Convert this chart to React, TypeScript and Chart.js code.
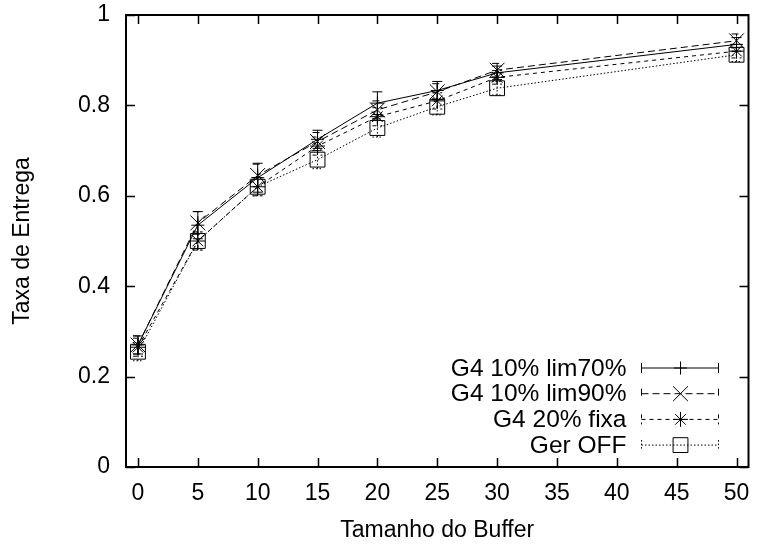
import React, { useEffect, useRef } from "react";
import { Chart, registerables } from "chart.js";

Chart.register(...registerables);

const bufferSizes = [0, 5, 10, 15, 20, 25, 30, 50];
const xTickValues = [0, 5, 10, 15, 20, 25, 30, 35, 40, 45, 50];
const yTickValues = [0, 0.2, 0.4, 0.6, 0.8, 1];

const seriesNames = ["G4 10% lim70%", "G4 10% lim90%", "G4 20% fixa", "Ger OFF"];
const lim70 = [0.27, 0.535, 0.64, 0.725, 0.805, 0.833, 0.872, 0.935];
const lim70Err = [0.02, 0.03, 0.032, 0.02, 0.025, 0.02, 0.015, 0.015];
const lim90 = [0.27, 0.54, 0.645, 0.72, 0.79, 0.83, 0.878, 0.943];
const lim90Err = [0.02, 0.025, 0.025, 0.02, 0.02, 0.018, 0.015, 0.015];
const fixa = [0.265, 0.5, 0.62, 0.71, 0.775, 0.81, 0.862, 0.92];
const fixaErr = [0.02, 0.02, 0.02, 0.02, 0.02, 0.018, 0.015, 0.015];
const gerOff = [0.255, 0.5, 0.62, 0.68, 0.75, 0.797, 0.838, 0.912];
const gerOffErr = [0.02, 0.02, 0.02, 0.02, 0.02, 0.018, 0.015, 0.015];

const FONT = "'Liberation Sans', Arial, sans-serif";

const styles = [
  { dash: [], point: "cross", radius: 6.5 },
  { dash: [7, 4], point: "crossRot", radius: 10.5 },
  { dash: [4, 4], point: "star", radius: 7.5 },
  { dash: [1.5, 2], point: "rect", radius: 10.5 },
];

const values = [lim70, lim90, fixa, gerOff];
const errors = [lim70Err, lim90Err, fixaErr, gerOffErr];

function drawMarker(ctx: CanvasRenderingContext2D, kind: string, r: number, x: number, y: number) {
  ctx.beginPath();
  if (kind === "cross") {
    ctx.moveTo(x - r, y); ctx.lineTo(x + r, y);
    ctx.moveTo(x, y - r); ctx.lineTo(x, y + r);
  } else if (kind === "crossRot") {
    const d = r * Math.SQRT1_2;
    ctx.moveTo(x - d, y - d); ctx.lineTo(x + d, y + d);
    ctx.moveTo(x - d, y + d); ctx.lineTo(x + d, y - d);
  } else if (kind === "star") {
    const d = r * Math.SQRT1_2;
    ctx.moveTo(x - r, y); ctx.lineTo(x + r, y);
    ctx.moveTo(x, y - r); ctx.lineTo(x, y + r);
    ctx.moveTo(x - d, y - d); ctx.lineTo(x + d, y + d);
    ctx.moveTo(x - d, y + d); ctx.lineTo(x + d, y - d);
  } else {
    const s = r * Math.SQRT1_2;
    ctx.rect(x - s, y - s, 2 * s, 2 * s);
  }
  ctx.stroke();
}

const gnuplotPlugin = {
  id: "gnuplotDecor",
  beforeDatasetsDraw(chart: any) {
    const { ctx, chartArea, scales } = chart;
    const { left, right, top, bottom } = chartArea;
    ctx.save();
    ctx.strokeStyle = "#000";
    ctx.setLineDash([]);
    ctx.lineWidth = 1.5;
    const tl = 9;
    ctx.beginPath();
    for (const v of xTickValues) {
      const px = Math.round(scales.x.getPixelForValue(v)) + 0.5;
      ctx.moveTo(px, bottom); ctx.lineTo(px, bottom - tl);
      ctx.moveTo(px, top); ctx.lineTo(px, top + tl);
    }
    for (const v of yTickValues) {
      const py = Math.round(scales.y.getPixelForValue(v)) + 0.5;
      ctx.moveTo(left, py); ctx.lineTo(left + tl, py);
      ctx.moveTo(right, py); ctx.lineTo(right - tl, py);
    }
    ctx.stroke();
    // error bars
    ctx.lineWidth = 1;
    chart.data.datasets.forEach((ds: any, i: number) => {
      const err = errors[i];
      ctx.setLineDash(styles[i].dash);
      ctx.beginPath();
      ds.data.forEach((p: any, j: number) => {
        const px = scales.x.getPixelForValue(p.x);
        const y1 = scales.y.getPixelForValue(p.y - err[j]);
        const y2 = scales.y.getPixelForValue(p.y + err[j]);
        ctx.moveTo(px, y1); ctx.lineTo(px, y2);
        ctx.moveTo(px - 5, y1); ctx.lineTo(px + 5, y1);
        ctx.moveTo(px - 5, y2); ctx.lineTo(px + 5, y2);
      });
      ctx.stroke();
    });
    ctx.restore();
  },
  afterDraw(chart: any) {
    const { ctx, chartArea } = chart;
    const { left, right, top, bottom } = chartArea;
    ctx.save();
    ctx.strokeStyle = "#000";
    ctx.setLineDash([]);
    ctx.lineWidth = 2;
    ctx.strokeRect(left, top, right - left, bottom - top);
    // legend
    const textRight = right - 122;
    const sx1 = right - 107;
    const sx2 = right - 30;
    const mx = (sx1 + sx2) / 2 + 0.5;
    const y0 = bottom - 99;
    const step = 25.7;
    ctx.font = `24.5px ${FONT}`;
    ctx.fillStyle = "#000";
    ctx.textAlign = "right";
    ctx.textBaseline = "middle";
    seriesNames.forEach((name, i) => {
      const y = y0 + i * step;
      ctx.fillText(name, textRight, y + 1);
      ctx.lineWidth = 1;
      ctx.setLineDash(styles[i].dash);
      ctx.beginPath();
      ctx.moveTo(sx1, y); ctx.lineTo(sx2, y);
      ctx.moveTo(sx1, y - 5); ctx.lineTo(sx1, y + 5);
      ctx.moveTo(sx2, y - 5); ctx.lineTo(sx2, y + 5);
      ctx.stroke();
      ctx.setLineDash([]);
      drawMarker(ctx, styles[i].point, styles[i].radius, mx, y);
    });
    ctx.restore();
  },
};

export default function App() {
  const ref = useRef<HTMLCanvasElement | null>(null);
  useEffect(() => {
    document.body.style.margin = "0";
    const canvas = ref.current;
    if (!canvas) return;
    const chart = new Chart(canvas, {
      type: "line",
      data: {
        datasets: seriesNames.map((name, i) => ({
          label: name,
          data: bufferSizes.map((x, j) => ({ x, y: values[i][j] })),
          borderColor: "#000",
          borderWidth: 1,
          borderDash: styles[i].dash,
          backgroundColor: "rgba(0,0,0,0)",
          pointStyle: styles[i].point as any,
          pointRadius: styles[i].radius,
          pointBorderColor: "#000",
          pointBackgroundColor: "rgba(0,0,0,0)",
          pointBorderWidth: 1,
          fill: false,
          tension: 0,
        })),
      },
      options: {
        responsive: false,
        animation: false,
        devicePixelRatio: 1,
        layout: { padding: { top: 15, right: 8, left: 0, bottom: 0 } },
        plugins: { legend: { display: false }, tooltip: { enabled: false } },
        scales: {
          x: {
            type: "linear",
            min: -1,
            max: 51,
            grid: { display: false, drawTicks: true, tickLength: 13 },
            border: { display: false },
            afterBuildTicks: (s: any) => {
              s.ticks = xTickValues.map((v) => ({ value: v }));
            },
            afterFit: (s: any) => {
              s.height = 77;
            },
            ticks: {
              padding: 0,
              color: "#000",
              font: { family: FONT, size: 23 },
              callback: (v: any) => String(v),
              maxRotation: 0,
              autoSkip: false,
            },
            title: {
              display: true,
              text: "Tamanho do Buffer",
              color: "#000",
              font: { family: FONT, size: 23 },
              padding: { top: 0, bottom: 0 },
            },
          },
          y: {
            type: "linear",
            min: 0,
            max: 1,
            grid: { display: false, drawTicks: true, tickLength: 16 },
            border: { display: false },
            afterBuildTicks: (s: any) => {
              s.ticks = yTickValues.map((v) => ({ value: v }));
            },
            afterFit: (s: any) => {
              s.width = 126;
            },
            ticks: {
              padding: 0,
              color: "#000",
              font: { family: FONT, size: 23 },
              callback: (v: any) => String(Number(Number(v).toFixed(1))),
              autoSkip: false,
            },
            title: {
              display: true,
              text: "Taxa de Entrega",
              color: "#000",
              font: { family: FONT, size: 23 },
              padding: { top: 9, bottom: 0 },
            },
          },
        },
      },
      plugins: [gnuplotPlugin],
    });
    return () => chart.destroy();
  }, []);
  return (
    <div style={{ position: "absolute", left: 0, top: 0, width: 760, height: 544, background: "#fff" }}>
      <canvas ref={ref} width={760} height={544} style={{ width: 760, height: 544, display: "block" }} />
    </div>
  );
}
